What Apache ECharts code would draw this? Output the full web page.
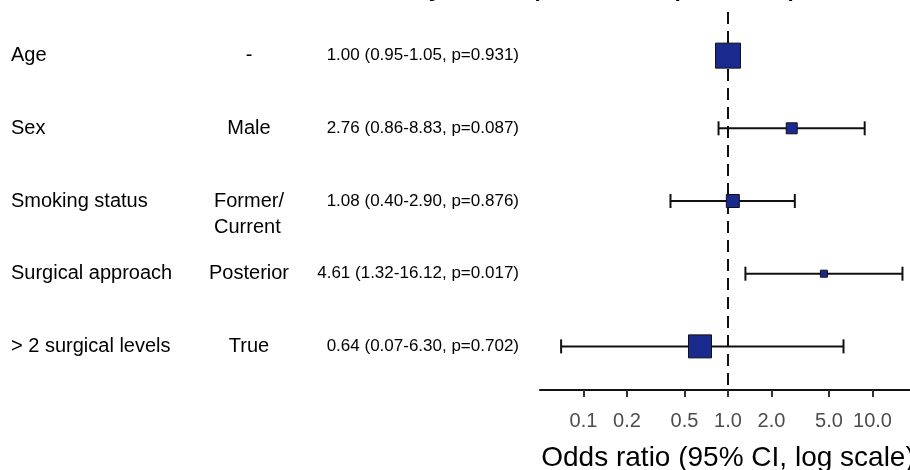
<!DOCTYPE html>
<html>
<head>
<meta charset="utf-8">
<script src="https://cdn.jsdelivr.net/npm/echarts@6/dist/echarts.min.js"></script>
<style>
  html, body { margin: 0; padding: 0; background: #ffffff; }
  #chart { width: 910px; height: 470px; }
</style>
</head>
<body>
<div id="chart"></div>
<script>
// ---------------- data ----------------
const variables = ['Age', 'Sex', 'Smoking status', 'Surgical approach', '> 2 surgical levels'];
const levels = ['-', 'Male', 'Former/\nCurrent', 'Posterior', 'True'];
const oddsRatios = [1.00, 2.76, 1.08, 4.61, 0.64];
const ciLower = [0.95, 0.86, 0.40, 1.32, 0.07];
const ciUpper = [1.05, 8.83, 2.90, 16.12, 6.30];
const pValues = [0.931, 0.087, 0.876, 0.017, 0.702];
const xTickValues = [0.1, 0.2, 0.5, 1, 2, 5, 10];
const titleText = 'Mortality: OR (95% CI, p-value)';
const xAxisTitle = 'Odds ratio (95% CI, log scale)';

// ---------------- styles ----------------
const FONT = "'Liberation Sans', Arial, sans-serif";
const BOX_PX = [25, 11, 13, 7, 23];   // marker sizes (style)
const BOX_FILL = '#1a2a8e';
const INK = '#111111';

function measureWidest(text, font) {
  const c = document.createElement('canvas').getContext('2d');
  c.font = font;
  return Math.max.apply(null, text.split('\n').map(l => c.measureText(l).width));
}

const rows = variables.map((v, i) => i + 1);
const ciData = rows.map((r, i) => [ciLower[i], ciUpper[i], r]);
const pointData = rows.map((r, i) => ({ value: [oddsRatios[i], r], symbolSize: BOX_PX[i] }));
const labelData = rows.map((r, i) => [1, r, i]);

const chart = echarts.init(document.getElementById('chart'), null, { renderer: 'canvas' });

const option = {
  animation: false,
  backgroundColor: '#ffffff',
  grid: { left: 540, top: 12, width: 376, height: 378, containLabel: false, outerBoundsMode: 'none' },
  xAxis: {
    type: 'log',
    logBase: 10,
    min: 0.05,
    max: 20,
    name: xAxisTitle,
    nameLocation: 'middle',
    nameGap: 54,
    nameTextStyle: { fontFamily: FONT, fontSize: 28, color: '#000000' },
    axisLine: { show: true, lineStyle: { color: INK, width: 2 } },
    axisTick: { show: true, length: 7, lineStyle: { color: '#333333', width: 2 }, customValues: xTickValues },
    axisLabel: {
      customValues: xTickValues,
      margin: 21,
      fontFamily: FONT, fontSize: 20, color: '#4d4d4d',
      formatter: v => Number(v).toFixed(1)
    },
    splitLine: { show: false },
    minorTick: { show: false },
    minorSplitLine: { show: false }
  },
  yAxis: {
    type: 'value', inverse: true, min: 0.4, max: 5.6, show: false
  },
  graphic: [{
    type: 'text',
    x: 314, y: -16,
    style: {
      text: titleText, fontFamily: FONT, fontSize: 35, fill: '#000000',
      align: 'left', verticalAlign: 'middle'
    }
  }],
  series: [
    {
      type: 'custom',
      name: 'ci',
      clip: false,
      z: 2,
      encode: { x: [0, 1], y: 2 },
      data: ciData,
      renderItem: function (params, api) {
        const a = api.coord([api.value(0), api.value(2)]);
        const b = api.coord([api.value(1), api.value(2)]);
        const h = 7;
        const st = { stroke: INK, lineWidth: 2 };
        return {
          type: 'group',
          children: [
            { type: 'line', shape: { x1: a[0], y1: a[1], x2: b[0], y2: b[1] }, style: st },
            { type: 'line', shape: { x1: a[0], y1: a[1] - h, x2: a[0], y2: a[1] + h }, style: st },
            { type: 'line', shape: { x1: b[0], y1: b[1] - h, x2: b[0], y2: b[1] + h }, style: st }
          ]
        };
      }
    },
    {
      type: 'scatter',
      name: 'OR',
      z: 3,
      symbol: 'rect',
      data: pointData,
      itemStyle: { color: BOX_FILL, borderColor: INK, borderWidth: 1, opacity: 1 },
      markLine: {
        silent: true,
        symbol: 'none',
        z: 1,
        label: { show: false },
        lineStyle: { color: INK, width: 2, type: [12, 7] },
        data: [{ xAxis: 1 }]
      }
    },
    {
      type: 'custom',
      name: 'table',
      clip: false,
      z: 4,
      encode: { x: 0, y: 1 },
      data: labelData,
      renderItem: function (params, api) {
        const i = api.value(2);
        const y = api.coord([1, api.value(1)])[1];
        const f2 = '20px ' + FONT;
        const lh = 26;
        const lvl = levels[i];
        const w = measureWidest(lvl, f2);
        const txt3 = oddsRatios[i].toFixed(2) + ' (' + ciLower[i].toFixed(2) + '-' + ciUpper[i].toFixed(2) +
          ', p=' + pValues[i].toFixed(3) + ')';
        return {
          type: 'group',
          children: [
            { type: 'text', x: 11, y: y, style: { text: variables[i], fontFamily: FONT, fontSize: 20, fill: '#000', align: 'left', verticalAlign: 'middle' } },
            { type: 'text', x: 249 - w / 2, y: y - lh / 2, style: { text: lvl, fontFamily: FONT, fontSize: 20, lineHeight: lh, fill: '#000', align: 'left', verticalAlign: 'top' } },
            { type: 'text', x: 519, y: y, style: { text: txt3, fontFamily: FONT, fontSize: 17, fill: '#000', align: 'right', verticalAlign: 'middle' } }
          ]
        };
      }
    }
  ]
};

chart.setOption(option);
</script>
</body>
</html>
